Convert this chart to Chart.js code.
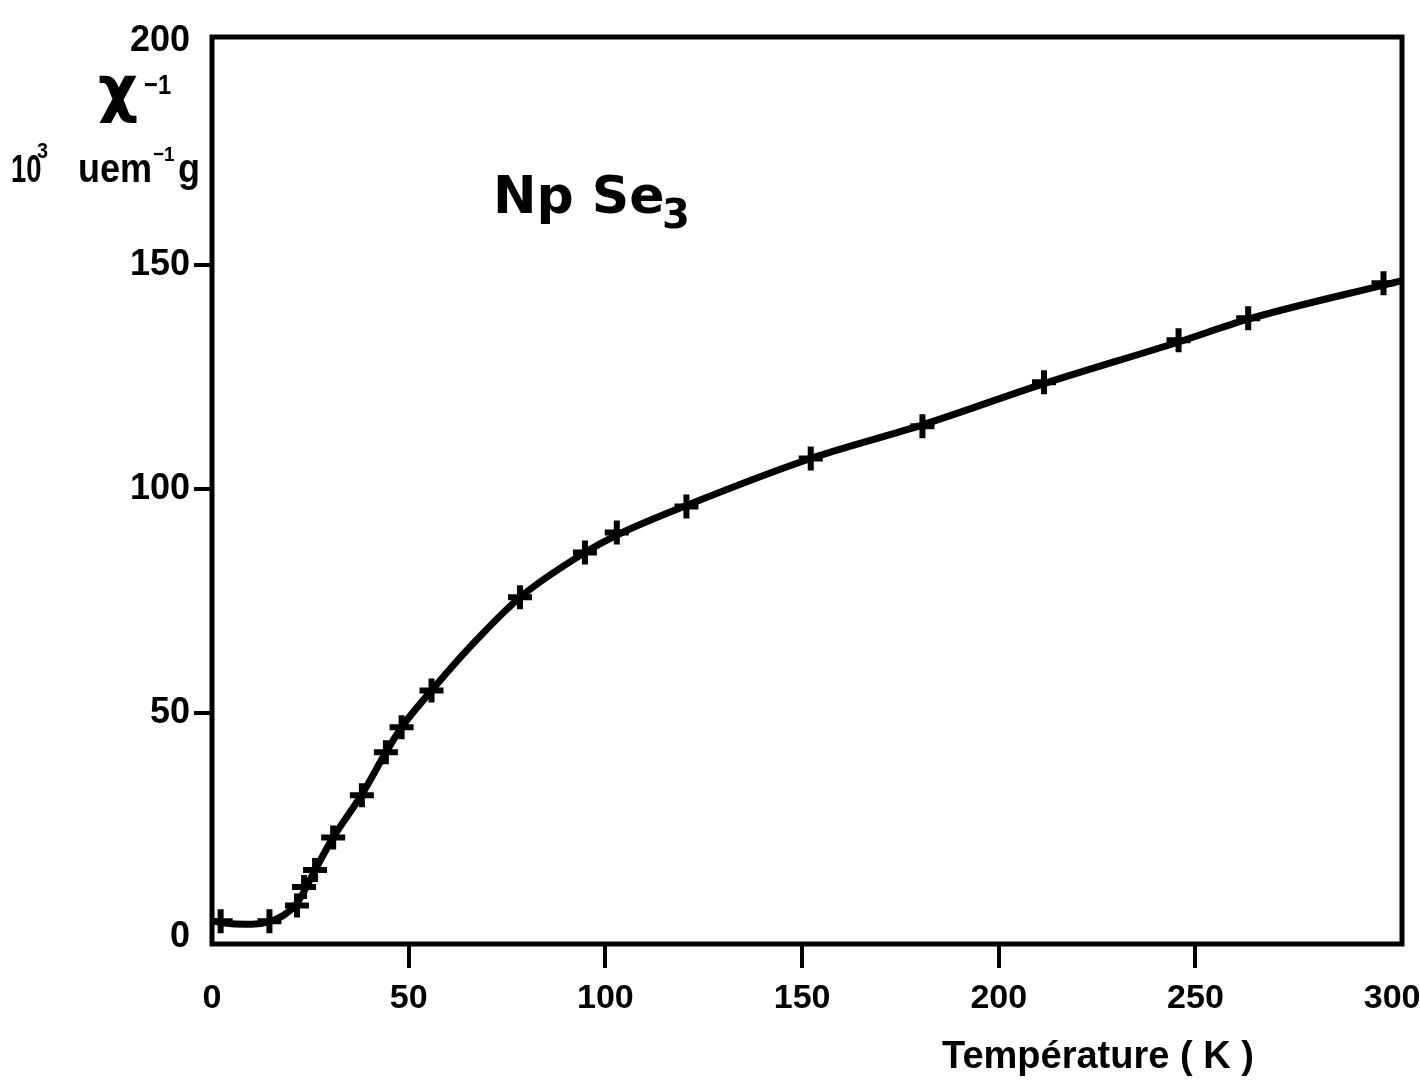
<!DOCTYPE html>
<html>
<head>
<meta charset="utf-8">
<script src="https://cdn.jsdelivr.net/npm/chart.js@4/dist/chart.umd.min.js"></script>
<style>
  html, body { margin: 0; padding: 0; background: #fff; }
  #wrap { width: 1420px; height: 1081px; }
</style>
</head>
<body>
<div id="wrap"><canvas id="npse3-chart"></canvas></div>
<script>
const tempK = [2.2, 14.6, 21.6, 23.4, 26.2, 30.8, 38.1, 44.2, 48.2, 55.8, 78.3, 94.8, 102.9, 120.6, 152.2, 180.6, 211.5, 245.7, 263.4, 297.8];
const invChi = [3.6, 3.6, 7.1, 11.2, 15.0, 22.3, 31.7, 41.3, 46.9, 55.1, 75.9, 85.9, 90.4, 96.2, 106.9, 114.1, 123.9, 133.3, 138.2, 146.0];

// hand drawn curve through the points
const curveT = [0.4, 5, 10, 14.6, 18, 21.6, 26.2, 30.8, 38.1, 44.2, 48.2, 55.8, 65, 78.3, 94.8, 102.9, 120.6, 152.2, 180.6, 211.5, 245.7, 263.4, 297.8, 302.5];
const curveY = [3.6, 3.0, 2.9, 3.5, 4.8, 7.6, 15.0, 22.3, 31.9, 41.3, 46.9, 55.1, 64.3, 75.9, 85.9, 89.8, 96.4, 106.9, 114.4, 123.6, 132.9, 138.0, 145.6, 146.6];

const xTicks = [0, 50, 100, 150, 200, 250, 300];
const yTicks = [0, 50, 100, 150, 200];

const xTickFont = { family: "'Liberation Sans', sans-serif", size: 34, weight: 'bold' };
const yTickFont = { family: "'Liberation Sans', sans-serif", size: 36, weight: 'bold' };

const chartEl = document.getElementById('npse3-chart');

// narrow lettering like the original drawing
function drawText(ctx, text, x, y, size, sx) {
  ctx.save();
  ctx.translate(x, y);
  ctx.scale(sx, 1);
  ctx.font = 'bold ' + size + "px 'Liberation Sans', sans-serif";
  ctx.fillText(text, 0, 0);
  ctx.restore();
}

// frame and free text of the original figure
const frameAndText = {
  id: 'frameAndText',
  afterDraw(chart) {
    const { ctx, chartArea: a } = chart;
    ctx.save();
    ctx.strokeStyle = '#000';
    ctx.lineWidth = 5;
    ctx.strokeRect(a.left, a.top, a.right - a.left, a.bottom - a.top);

    ctx.fillStyle = '#000';
    ctx.textBaseline = 'alphabetic';
    ctx.textAlign = 'left';

    // y axis title
    ctx.font = "bold 62px 'DejaVu Sans', sans-serif";
    ctx.fillText('χ', 98, 110);
    drawText(ctx, '−1', 144, 94, 28, 0.85);

    drawText(ctx, '10', 11, 182, 38, 0.72);
    drawText(ctx, '3', 37, 158, 22, 0.9);
    drawText(ctx, 'uem', 78, 182, 40, 0.9);
    drawText(ctx, '−1', 153, 161, 21, 0.9);
    drawText(ctx, 'g', 178, 182, 40, 0.9);

    // compound name
    ctx.font = "bold 52px 'DejaVu Sans', sans-serif";
    ctx.fillText('Np Se', 493, 213);
    ctx.font = "bold 40px 'DejaVu Sans', sans-serif";
    ctx.fillText('3', 662, 228);

    // x axis title
    ctx.font = "bold 38px 'Liberation Sans', sans-serif";
    ctx.fillText('Température ( K )', 942, 1068);
    ctx.restore();
  }
};

new Chart(chartEl, {
  type: 'scatter',
  data: {
    datasets: [{
      label: 'courbe',
      data: curveT.map((t, i) => ({ x: t, y: curveY[i] })),
      showLine: true,
      borderColor: '#000',
      borderWidth: 7,
      pointRadius: 0,
      cubicInterpolationMode: 'monotone',
      borderCapStyle: 'round'
    }, {
      label: 'mesures',
      data: tempK.map((t, i) => ({ x: t, y: invChi[i] })),
      showLine: false,
      pointStyle: 'cross',
      pointRadius: 12,
      pointBorderWidth: 6,
      borderColor: '#000',
      backgroundColor: '#000'
    }]
  },
  options: {
    responsive: true,
    maintainAspectRatio: false,
    animation: false,
    layout: { padding: { top: 37, right: 13, left: 0, bottom: 0 } },
    plugins: { legend: { display: false }, tooltip: { enabled: false } },
    scales: {
      x: {
        type: 'linear',
        min: 0,
        max: 302.5,
        afterBuildTicks: s => { s.ticks = xTicks.map(v => ({ value: v })); },
        afterFit: s => { s.height = 137; s.paddingLeft = 0; s.paddingRight = 0; },
        border: { display: false },
        grid: {
          drawOnChartArea: false,
          drawTicks: true,
          tickLength: 24,
          lineWidth: 4,
          color: c => (c.tick && (c.tick.value === 0 || c.tick.value === 300)) ? 'rgba(0,0,0,0)' : '#000'
        },
        ticks: { color: '#000', font: xTickFont, padding: 10, maxRotation: 0 }
      },
      y: {
        type: 'linear',
        min: -1.5,
        max: 201,
        afterBuildTicks: s => { s.ticks = yTicks.map(v => ({ value: v })); },
        afterFit: s => { s.width = 212; s.paddingTop = 0; s.paddingBottom = 0; },
        border: { display: false },
        grid: {
          drawOnChartArea: false,
          drawTicks: true,
          tickLength: 18,
          lineWidth: 4,
          color: c => (c.tick && (c.tick.value === 0 || c.tick.value === 200)) ? 'rgba(0,0,0,0)' : '#000'
        },
        ticks: { color: '#000', font: yTickFont, padding: 4 }
      }
    }
  },
  plugins: [frameAndText]
});
</script>
</body>
</html>
